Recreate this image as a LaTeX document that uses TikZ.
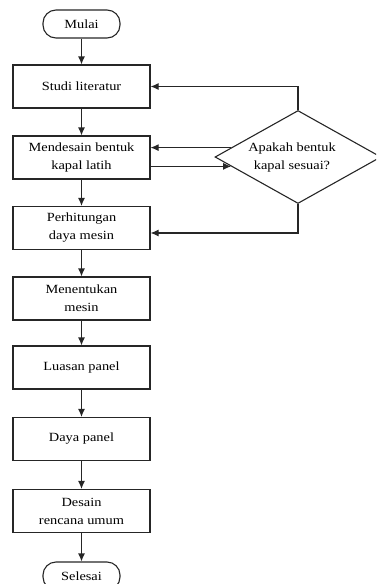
\documentclass[tikz,border=0pt]{standalone}
\usepackage{fontspec}
\setmainfont{Liberation Serif}[FakeStretch=1.15]
\usetikzlibrary{arrows.meta,shapes.geometric}

\tikzset{
    proses/.style={draw=black!85, line width=1.1pt, rectangle, minimum width=137pt,
        minimum height=43pt, inner sep=0pt, align=center},
    terminal/.style={draw=black!85, line width=1.1pt, rectangle, rounded corners=13pt,
        minimum width=77pt, minimum height=28pt, inner sep=0pt},
    keputusan/.style={draw=black!85, line width=1.1pt, diamond, aspect=1.8,
        minimum width=166pt, minimum height=93pt, inner sep=0pt, align=center},
    panah/.style={-{Latex[length=8pt, width=7pt]}, draw=black!85, line width=1.1pt}
}

\begin{document}
\begin{tikzpicture}[x=1pt, y=-1pt, font=\fontsize{12.5}{18}\selectfont]
            \useasboundingbox (0, 0) rectangle (376, 584);
            \clip (0, 0) rectangle (376, 584);
            %\draw[lightgray] (0, 0) grid[step=20] (376, 584);
            \node[terminal] (mulai) at (81.5, 24) {Mulai};
            \node[proses] (studi) at (81.5, 86.5) {Studi literatur};
            \node[proses] (desain) at (81.5, 157.5) {Mendesain bentuk\\kapal latih};
            \node[proses] (hitung) at (81.5, 228) {Perhitungan\\daya mesin};
            \node[proses] (mesin) at (81.5, 298.5) {Menentukan\\mesin};
            \node[proses] (luasan) at (81.5, 367.5) {Luasan panel};
            \node[proses] (daya) at (81.5, 439) {Daya panel};
            \node[proses] (rencana) at (81.5, 511) {Desain\\rencana umum};
            \node[terminal] (selesai) at (81.5, 576) {Selesai};
            \node[keputusan] (sesuai) at (298, 157)
                {Apakah bentuk\hspace*{12pt}\\kapal sesuai?\hspace*{12pt}};
            % alur utama
            \foreach \a/\b in {mulai/studi, studi/desain, desain/hitung, hitung/mesin,
                mesin/luasan, luasan/daya, daya/rencana, rencana/selesai}
                \draw[panah] (\a) -- (\b);
            % cabang keputusan
            \draw[panah] (desain.east |- sesuai.188) -- (sesuai.188);
            \draw[panah] (sesuai.172) -- (sesuai.172 -| desain.east);
            \draw[panah] (sesuai.north) |- (studi.east);
            \draw[panah] (sesuai.south) |- ([yshift=-5pt]hitung.east);
        \end{tikzpicture}
\end{document}
